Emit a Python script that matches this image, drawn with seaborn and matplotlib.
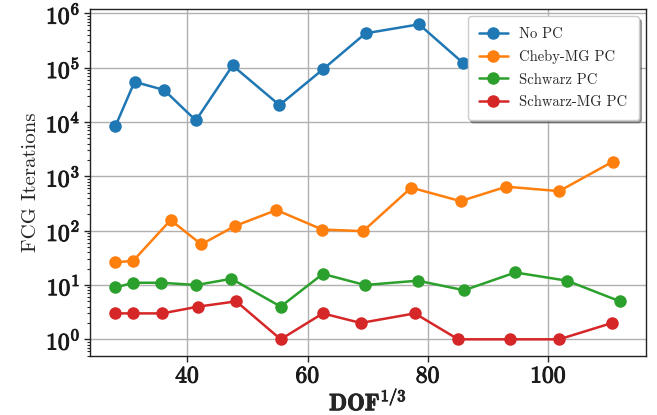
import numpy as np
import pandas as pd
import seaborn as sns
import matplotlib.pyplot as plt
import matplotlib.patheffects as pe
from matplotlib.ticker import FuncFormatter, LogLocator

# values
x_nopc = [28.0, 31.2, 36.1, 41.4, 47.5, 55.3, 62.5, 69.6, 78.5, 85.8]
y_nopc = [8300, 55000, 39000, 10700, 110000, 20500, 93000, 430000, 630000, 123000]

x_cheby = [28.0, 31.0, 37.2, 42.3, 47.9, 54.8, 62.4, 69.2, 77.2, 85.4, 93.0, 101.8, 110.7]
y_cheby = [26, 28, 157, 56, 122, 240, 105, 98, 620, 350, 645, 535, 1870]

x_schwarz = [28.0, 31.0, 35.6, 41.5, 47.3, 55.5, 62.5, 69.5, 78.3, 86.0, 94.5, 103.1, 111.9]
y_schwarz = [9, 11, 11, 10, 13, 4, 16, 10, 12, 8, 17, 12, 5]

x_schwarz_mg = [28.0, 31.0, 35.8, 41.8, 48.1, 55.5, 62.5, 68.8, 77.8, 85.0, 93.6, 101.8, 110.6]
y_schwarz_mg = [3, 3, 3, 4, 5, 1, 3, 2, 3, 1, 1, 1, 2]

labels = ["No PC", "Cheby-MG PC", "Schwarz PC", "Schwarz-MG PC"]

frames = []
for lab, xs, ys in zip(labels,
                       [x_nopc, x_cheby, x_schwarz, x_schwarz_mg],
                       [y_nopc, y_cheby, y_schwarz, y_schwarz_mg]):
    frames.append(pd.DataFrame({"dof": xs, "iters": ys, "pc": lab}))
df = pd.concat(frames, ignore_index=True)

sns.set_style("ticks")
plt.rcParams["font.family"] = "serif"
plt.rcParams["font.serif"] = ["cmr10", "DejaVu Serif"]
plt.rcParams["mathtext.fontset"] = "cm"
plt.rcParams["axes.formatter.use_mathtext"] = True

fig, ax = plt.subplots(figsize=(6.57, 4.15), dpi=100)
fig.subplots_adjust(left=0.137, right=0.983, bottom=0.143, top=0.978)

sns.lineplot(data=df, x="dof", y="iters", hue="pc", hue_order=labels,
             palette=["#1f77b4", "#ff7f0e", "#2ca02c", "#d62728"],
             marker="o", markersize=9, markeredgewidth=0, linewidth=1.8,
             sort=False, ax=ax)

ax.set_yscale("log")
ax.set_ylim(0.5, 1.2e6)
ax.set_xlim(23.8, 116.2)
ax.yaxis.set_major_locator(LogLocator(base=10, numticks=10))
ax.yaxis.set_minor_locator(LogLocator(base=10, subs=np.arange(2, 10), numticks=20))
ax.yaxis.set_major_formatter(FuncFormatter(lambda v, p: r"$\mathbf{10^{%d}}$" % round(np.log10(v))))
ax.xaxis.set_major_formatter(FuncFormatter(lambda v, p: r"$\mathbf{%d}$" % v))
ax.tick_params(axis="both", which="major", labelsize=17, length=4, width=1, pad=3)
ax.tick_params(axis="y", which="minor", length=2.5, width=0.8)

# thicken the tick labels a little, closer to LaTeX bold
bold = [pe.withStroke(linewidth=0.7, foreground="#1a1a1a")]
for t in ax.get_xticklabels() + ax.get_yticklabels():
    t.set_path_effects(bold)
    t.set_color("#1a1a1a")

ax.grid(True, which="major", color="#b0b0b0", linewidth=1)
for s in ax.spines.values():
    s.set_color("#222222")
    s.set_linewidth(1)

xl = ax.set_xlabel(r"$\mathbf{DOF}^{\mathbf{1/3}}$", fontsize=17, labelpad=1)
xl.set_path_effects(bold)
ax.set_ylabel("FCG Iterations", fontsize=15, labelpad=4)

ax.legend(loc="upper right", fontsize=10.5, framealpha=1, shadow=True,
          fancybox=True, borderaxespad=0.5, borderpad=0.75, labelspacing=0.6,
          edgecolor="#cccccc")

fig.savefig("out.png", dpi=100)
